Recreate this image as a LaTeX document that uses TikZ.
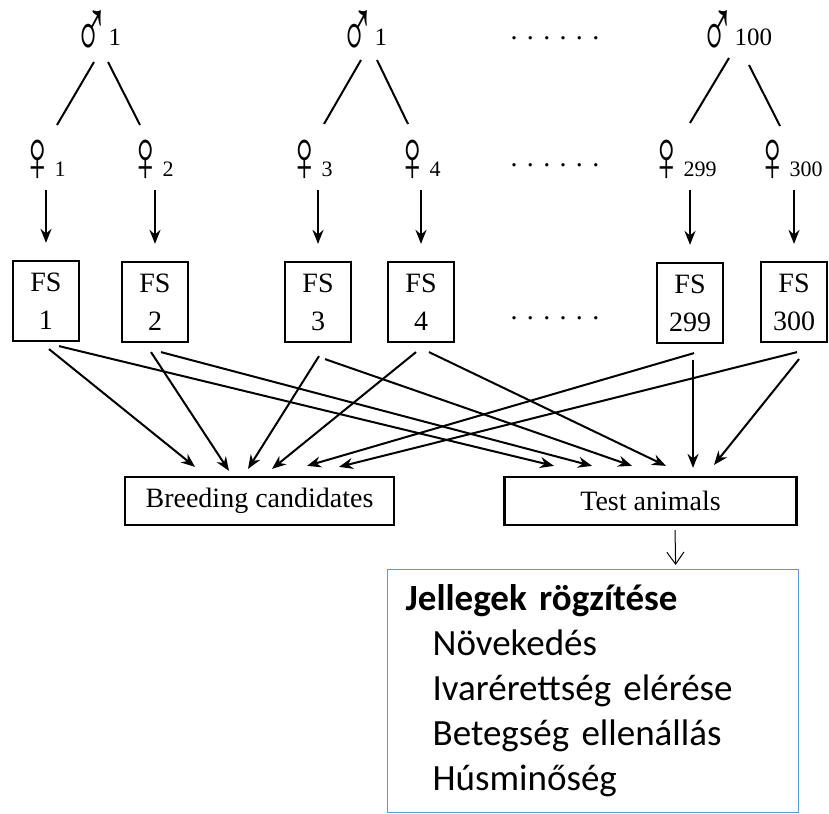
\documentclass[tikz,border=0pt]{standalone}
\usepackage{fontspec}
\usepackage{graphicx}
\setmainfont{Liberation Serif}
\newfontfamily\calibri{Carlito}
\usetikzlibrary{arrows.meta,calc}
\definecolor{traitblue}{RGB}{91,155,213}
\newcommand{\sire}{\raisebox{-13pt}{\scalebox{1}[1.85]{\fontsize{46}{46}\selectfont ♂}}}
\newcommand{\dam}{\raisebox{-5pt}{\scalebox{1}[1.6]{\fontsize{46}{46}\selectfont ♀}}}

\begin{document}
\begin{tikzpicture}[x=1pt,y=-1pt,
        every node/.style={font=\fontsize{28}{38}\selectfont, inner sep=0pt},
        sex/.style={anchor=base west},
        dots/.style={anchor=base},
        fsbox/.style={draw, line width=2.2pt, minimum width=66pt, minimum height=80pt, align=center},
        groupbox/.style={draw, line width=2.2pt, minimum height=48pt},
        arr/.style={-{Stealth[length=14pt,width=11pt]}, line width=2pt},
        thinarr/.style={-{Straight Barb[length=12pt,width=17pt]}, line width=1pt}]
        \useasboundingbox (0,0) rectangle (829,813);

        % sires
        \node[sex] at (74,46)(m1){\sire\fontsize{25}{25}\selectfont 1};
        \node[sex] at (340,46)(m2){\sire\fontsize{25}{25}\selectfont 1};
        \node[sex] at (700,46)(m3){\sire\fontsize{25}{25}\selectfont 100};
        \node[dots] at (555,40)(md){. . . . . .};

        % dams
        \node[sex] at (20,177)(f1){\dam\fontsize{22}{22}\selectfont 1};
        \node[sex] at (128,177)(f2){\dam\fontsize{22}{22}\selectfont 2};
        \node[sex] at (287,177)(f3){\dam\fontsize{22}{22}\selectfont 3};
        \node[sex] at (395,177)(f4){\dam\fontsize{22}{22}\selectfont 4};
        \node[sex] at (649,177)(f5){\dam\fontsize{22}{22}\selectfont 299};
        \node[sex] at (755,177)(f6){\dam\fontsize{22}{22}\selectfont 300};
        \node[dots] at (555,167)(fd){. . . . . .};

        % full-sib families
        \node[fsbox] at (46,301)(fs1){FS\\1};
        \node[fsbox] at (155,302)(fs2){FS\\2};
        \node[fsbox] at (318,302)(fs3){FS\\3};
        \node[fsbox] at (421,302)(fs4){FS\\4};
        \node[fsbox] at (690,303)(fs5){FS\\299};
        \node[fsbox] at (794,302)(fs6){FS\\300};
        \node[dots] at (555,319)(fsd){. . . . . .};

        \node[groupbox, minimum width=269pt] at (259.5,501)(breed){Breeding candidates};
        \node[groupbox, minimum width=292pt] at (650.5,501)(test){Test animals};

        \node[draw=traitblue, line width=1.3pt, anchor=north west, minimum width=411pt,
              minimum height=243pt, text width=375pt, inner xsep=18pt, align=left,
              font=\calibri\fontsize{37}{45}\selectfont] at (387,569)(traits)
              {\textbf{Jellegek rögzítése}\\
               \hspace*{27pt}Növekedés\\
               \hspace*{27pt}Ivarérettség elérése\\
               \hspace*{27pt}Betegség ellenállás\\
               \hspace*{27pt}Húsminőség};

        \path[line width=2pt]
        ([shift={(20,16)}]m1.base west)edge([shift={(37,-52)}]f1.base west)
        ([shift={(34,16)}]m1.base west)edge([shift={(12,-52)}]f2.base west)
        ([shift={(21,14)}]m2.base west)edge([shift={(37,-53)}]f3.base west)
        ([shift={(37,14)}]m2.base west)edge([shift={(13,-53)}]f4.base west)
        ([shift={(29,12)}]m3.base west)edge([shift={(41,-54)}]f5.base west)
        ([shift={(49,19)}]m3.base west)edge([shift={(25,-51)}]f6.base west)
        ;

        \path[arr]
        ($(fs1.north |- f1.base)+(0,13)$)edge([yshift=17pt]fs1.north)
        ($(fs2.north |- f2.base)+(0,13)$)edge([yshift=17pt]fs2.north)
        ($(fs3.north |- f3.base)+(0,13)$)edge([yshift=17pt]fs3.north)
        ($(fs4.north |- f4.base)+(0,13)$)edge([yshift=17pt]fs4.north)
        ($(fs5.north |- f5.base)+(0,13)$)edge([yshift=17pt]fs5.north)
        ($(fs6.north |- f6.base)+(0,13)$)edge([yshift=17pt]fs6.north)
        ;

        \path[arr]
        ([shift={(3,7)}]fs1.south)edge([shift={(-64.5,-9)}]breed.north)
        ([shift={(13,4)}]fs1.south)edge([shift={(-96.5,-10)}]test.north)
        ([shift={(-4,9)}]fs2.south)edge([shift={(-30.5,-5)}]breed.north)
        ([shift={(6,9)}]fs2.south)edge([shift={(-58.5,-10)}]test.north)
        ([shift={(1,13)}]fs3.south)edge([shift={(-11.5,-7)}]breed.north)
        ([shift={(7,16)}]fs3.south)edge([shift={(-18.5,-10)}]test.north)
        ([shift={(-5,9)}]fs4.south)edge([shift={(12.5,-7)}]breed.north)
        ([shift={(8,9)}]fs4.south)edge([shift={(15.5,-10)}]test.north)
        ([shift={(4,9)}]fs5.south)edge([shift={(47.5,-10)}]breed.north)
        ([shift={(3,16)}]fs5.south)edge([shift={(42.5,-8)}]test.north)
        ([shift={(3,9)}]fs6.south)edge([shift={(79.5,-9)}]breed.north)
        ([shift={(5,16)}]fs6.south)edge([shift={(63.5,-11)}]test.north)
        ;

        \path[thinarr]
        ([shift={(24.5,4)}]test.south)edge([shift={(82.5,-4)}]traits.north);
    \end{tikzpicture}
\end{document}
